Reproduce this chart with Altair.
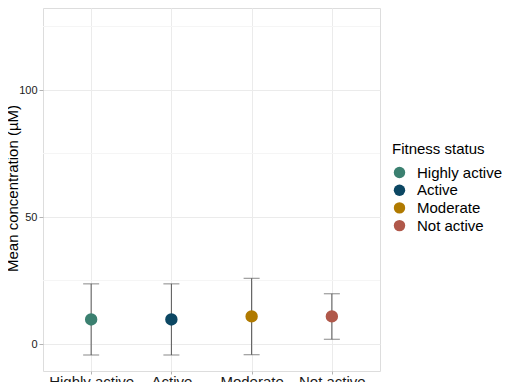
import altair as alt
import pandas as pd

categories = ["Highly active", "Active", "Moderate", "Not active"]
means = [9.7, 9.7, 10.9, 10.9]
lower = [-4.3, -4.3, -4.2, 1.9]
upper = [23.7, 23.7, 25.9, 19.8]
colors = ["#3b8070", "#0c4763", "#b07a00", "#b0584a"]
major_ticks = [0, 50, 100]
minor_ticks = [25, 75, 125]

df = pd.DataFrame({"status": categories, "mean": means, "lo": lower, "hi": upper})
minor_df = pd.DataFrame({"v": minor_ticks})

FONT = "Liberation Sans"
ydom = [-10.6, 132.3]

x_enc = alt.X("status:N", sort=categories, scale=alt.Scale(type="point", padding=0.6),
              axis=alt.Axis(title=None, labelFontSize=15, labelColor="#1a1a1a", labelFont=FONT,
                            labelAngle=0, tickSize=3, tickColor="#b3b3b3", labelPadding=0,
                            grid=True, gridColor="#ebebeb", domain=False))
y_scale = alt.Scale(domain=ydom, nice=False, zero=False)
y_axis = alt.Axis(title="Mean concentration (µM)", titleFontSize=15, titleFont=FONT,
                  titleFontWeight="normal", titleColor="#000000",
                  titleX=-30.5, titleY=180, titleBaseline="middle", titleAngle=270,
                  values=major_ticks, labelFontSize=11, labelFont=FONT, labelColor="#1a1a1a",
                  tickSize=4, tickColor="#b3b3b3", labelPadding=2, grid=True,
                  gridColor="#ebebeb", domain=False)

minor = alt.Chart(minor_df).mark_rule(color="#f5f5f5", strokeWidth=1).encode(
    y=alt.Y("v:Q", scale=y_scale, axis=y_axis)
)

bars = alt.Chart(df).mark_rule(color="#555555", strokeWidth=1).encode(
    x=x_enc,
    y=alt.Y("lo:Q", scale=y_scale, axis=y_axis),
    y2="hi:Q",
)
top_w = alt.Chart(df).mark_tick(color="#555555", thickness=1, size=16, orient="horizontal").encode(
    x=x_enc, y=alt.Y("hi:Q", scale=y_scale, axis=y_axis)
)
bot_w = alt.Chart(df).mark_tick(color="#555555", thickness=1, size=16, orient="horizontal").encode(
    x=x_enc, y=alt.Y("lo:Q", scale=y_scale, axis=y_axis)
)
points = alt.Chart(df).mark_circle(size=154, opacity=1).encode(
    x=x_enc,
    y=alt.Y("mean:Q", scale=y_scale, axis=y_axis),
    color=alt.Color("status:N", sort=categories,
                    scale=alt.Scale(domain=categories, range=colors),
                    legend=alt.Legend(title="Fitness status", orient="none", legendX=349,
                                      legendY=134, titleFontSize=15, titleFont=FONT,
                                      titleFontWeight="normal", titleColor="#000000",
                                      labelFontSize=15, labelFont=FONT, labelColor="#000000",
                                      symbolType="circle", symbolSize=130, symbolOpacity=1,
                                      symbolStrokeWidth=0, labelOffset=10, rowPadding=1.7,
                                      titlePadding=8)),
)

chart = alt.layer(minor, bars, top_w, bot_w, points).properties(
    width=337, height=363,
    autosize=alt.AutoSizeParams(type="none"),
    padding={"left": 35, "top": 0, "right": 122, "bottom": 30},
).configure_view(stroke="#b3b3b3", strokeWidth=1).configure(background="white")

chart.save("out.html", embed_options={"renderer": "svg", "actions": False})
